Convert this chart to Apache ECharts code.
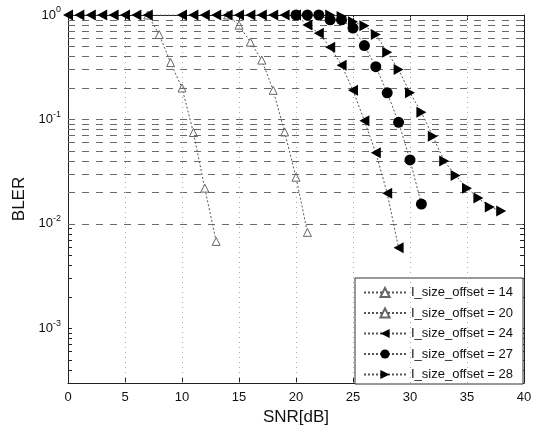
<!DOCTYPE html>
<html>
<head>
<meta charset="utf-8">
<script src="https://cdn.jsdelivr.net/npm/echarts@6/dist/echarts.min.js"></script>
<style>
html,body{margin:0;padding:0;background:#fff;}
#chart{width:544px;height:431px;}
</style>
</head>
<body>
<div id="chart"></div>
<script>
// ---- data ----
var seriesNames = ['I_size_offset = 14','I_size_offset = 20','I_size_offset = 24','I_size_offset = 27','I_size_offset = 28'];
var snr14 = [7,8,9,10,11,12,13];
var bler14 = [1,0.65,0.35,0.2,0.075,0.022,0.0068];
var snr20 = [14,15,16,17,18,19,20,21];
var bler20 = [1,0.80,0.55,0.37,0.19,0.076,0.028,0.0083];
var snr24 = [0,1,2,3,4,5,6,7,10,11,12,13,14,15,16,17,18,19,20,21,22,23,24,25,26,27,28,29];
var bler24 = [1,1,1,1,1,1,1,1,1,1,1,1,1,1,1,1,1,1,1,0.8,0.67,0.49,0.33,0.19,0.097,0.048,0.0197,0.0059];
var snr27 = [20,21,22,23,24,25,26,27,28,29,30,31];
var bler27 = [1,1,1,0.9,0.9,0.75,0.51,0.32,0.18,0.094,0.041,0.0155];
var snr28 = [23,24,25,26,27,28,29,30,31,32,33,34,35,36,37,38];
var bler28 = [1,0.97,0.86,0.79,0.65,0.44,0.30,0.18,0.117,0.069,0.040,0.029,0.022,0.0177,0.0145,0.0133];
var xTicks = [0,5,10,15,20,25,30,35,40];
var yMajorTicks = [0.001,0.01,0.1,1];
var yGridTicks = [0.0004,0.0005,0.0006,0.0007,0.0008,0.0009,0.001,
  0.002,0.003,0.004,0.005,0.006,0.007,0.008,0.009,0.01,
  0.02,0.03,0.04,0.05,0.06,0.07,0.08,0.09,0.1,
  0.2,0.3,0.4,0.5,0.6,0.7,0.8,0.9];
var xGridTicks = [5,10,15,20,25,30,35];

function pairs(xs, ys){ return xs.map(function(x,i){ return [x, ys[i]]; }); }

var FONT = '"Liberation Sans", Arial, Helvetica, sans-serif';
var leftTri = 'path://M0,5 L9,0 L9,10 Z';
var rightTri = 'path://M9,5 L0,0 L0,10 Z';
var lineStyleBase = {color:'#555', width:1, type:[2,2]};

var chart = echarts.init(document.getElementById('chart'), null, {renderer:'canvas'});

function yFmt(v){
  var e = Math.round(Math.log10(v));
  return '{b|10}{s|' + e + '}';
}
var yRich = {
  b:{fontSize:13, fontFamily:FONT, color:'#111'},
  s:{fontSize:9, fontFamily:FONT, color:'#111', padding:[0,0,10,0]}
};

var option = {
  backgroundColor:'#fff',
  animation:false,
  grid:{left:68, right:20, top:15, bottom:48},
  xAxis:[{
    type:'value', min:0, max:40, interval:5,
    name:'SNR[dB]', nameLocation:'middle', nameGap:24,
    nameTextStyle:{fontSize:17, fontFamily:FONT, color:'#111'},
    axisLine:{onZero:false, lineStyle:{color:'#222', width:1}},
    axisTick:{inside:true, length:5, lineStyle:{color:'#222'}},
    axisLabel:{fontSize:13, fontFamily:FONT, color:'#111', margin:8},
    splitLine:{show:false}
  },{
    type:'value', min:0, max:40, interval:5, position:'top',
    axisLine:{onZero:false, lineStyle:{color:'#222', width:1}},
    axisTick:{inside:true, length:5, lineStyle:{color:'#222'}},
    axisLabel:{show:false}, splitLine:{show:false}
  }],
  yAxis:[{
    type:'log', logBase:10, min:0.0003, max:1,
    name:'BLER', nameLocation:'middle', nameGap:38,
    nameTextStyle:{fontSize:17, fontFamily:FONT, color:'#111'},
    axisLine:{onZero:false, lineStyle:{color:'#222', width:1}},
    axisTick:{inside:true, length:4, customValues:yGridTicks, lineStyle:{color:'#222'}},
    axisLabel:{customValues:yMajorTicks, formatter:yFmt, rich:yRich, margin:7},
    splitLine:{show:false}
  },{
    type:'log', logBase:10, min:0.0003, max:1, position:'right',
    axisLine:{onZero:false, lineStyle:{color:'#222', width:1}},
    axisTick:{inside:true, length:4, customValues:yGridTicks, lineStyle:{color:'#222'}},
    axisLabel:{show:false}, splitLine:{show:false}
  }],
  legend:{
    orient:'vertical', left:355, top:278,
    padding:[8,10,3,8], itemGap:7.5, itemWidth:42, itemHeight:11.5,
    backgroundColor:'#fff', borderColor:'#333', borderWidth:1,
    textStyle:{fontSize:13, fontFamily:FONT, color:'#111'},
    data:seriesNames
  },
  series:[
    {
      name:seriesNames[0], type:'line', data:pairs(snr14, bler14),
      symbol:'triangle', symbolSize:8,
      itemStyle:{color:'#fff', borderColor:'#666', borderWidth:1},
      lineStyle:lineStyleBase, z:3,
      markLine:{
        silent:true, symbol:['none','none'], label:{show:false}, animation:false,
        data: yGridTicks.map(function(v){ return {yAxis:v, lineStyle:{color:'#6a6a6a', width:1, type:[7,7]}}; })
          .concat(xGridTicks.map(function(v){ return {xAxis:v, lineStyle:{color:'#aaa', width:1, type:[1,4]}}; }))
      }
    },
    {
      name:seriesNames[1], type:'line', data:pairs(snr20, bler20),
      symbol:'triangle', symbolSize:8,
      itemStyle:{color:'#fff', borderColor:'#666', borderWidth:1},
      lineStyle:lineStyleBase, z:4
    },
    {
      name:seriesNames[2], type:'line', data:pairs(snr24, bler24),
      symbol:leftTri, symbolSize:[10,11], symbolKeepAspect:false,
      itemStyle:{color:'#000'},
      lineStyle:lineStyleBase, z:5
    },
    {
      name:seriesNames[3], type:'line', data:pairs(snr27, bler27),
      symbol:'circle', symbolSize:11,
      itemStyle:{color:'#000'},
      lineStyle:lineStyleBase, z:6
    },
    {
      name:seriesNames[4], type:'line', data:pairs(snr28, bler28),
      symbol:rightTri, symbolSize:[10,11], symbolKeepAspect:false,
      itemStyle:{color:'#000'},
      lineStyle:lineStyleBase, z:7
    }
  ]
};
chart.setOption(option);
</script>
</body>
</html>
